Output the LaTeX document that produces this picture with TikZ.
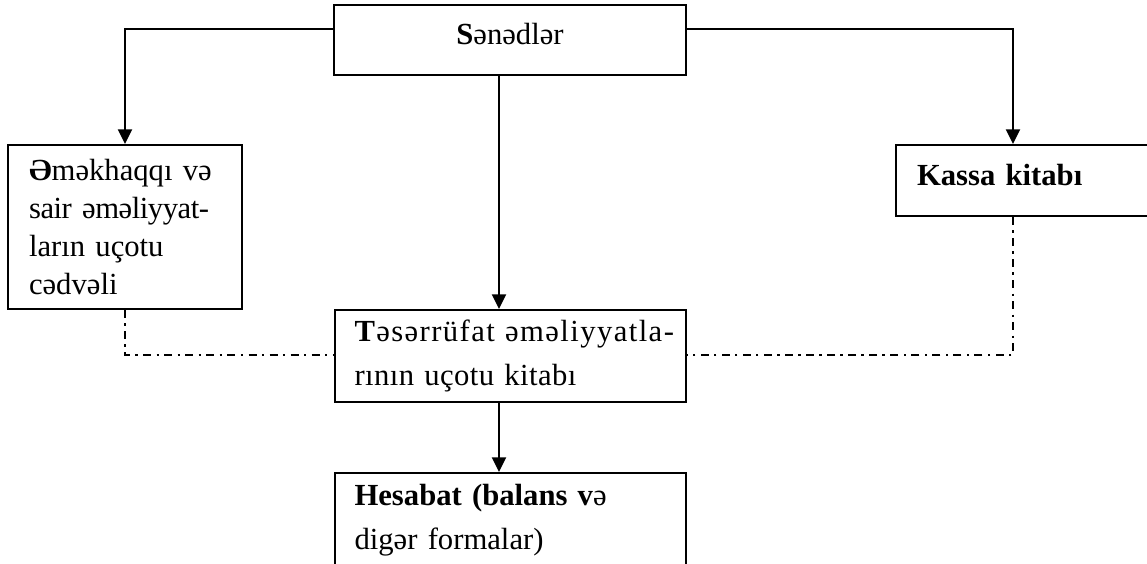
\documentclass[tikz,border=0pt]{standalone}
\usepackage{fontspec}
\setmainfont{Liberation Serif}
\usetikzlibrary{arrows.meta}
% one unbreakable, left-set line of box text; optional letter spacing
\newcommand{\boxline}[2][0]{\makebox[\linewidth][l]{\addfontfeature{LetterSpace=#1}#2}}
\begin{document}
\begin{tikzpicture}[x=0.75pt,y=-0.75pt,
  box/.style={draw,line width=1.5pt,inner ysep=0pt,
    font=\fontsize{23}{28.5}\selectfont},
  leftbox/.style={box,align=left,inner xsep=15pt},
  flow/.style={line width=1.5pt,-{Triangle[length=11pt,width=10.5pt]}},
  link/.style={line width=1.5pt,dash pattern=on 6pt off 4pt on 1.8pt off 4pt}
]
\useasboundingbox (0,0) rectangle (1147,564);
\clip (0,0) rectangle (1147,564);

% boxes
\node[box,minimum width=264pt,minimum height=52.5pt,
  text height=15.75pt,text depth=8.25pt] (sen) at (510,40)
  {\textbf{S}ənədlər};
\node[leftbox,minimum width=175.5pt,minimum height=123pt,text width=144pt,
  inner xsep=15.75pt] (emek) at (125,227)
  {\boxline{\textbf{Ə}məkhaqqı və}\\\boxline[-1.5]{sair əməliyyat-}\\
   \boxline{ların uçotu}\\\boxline{cədvəli}};
\node[leftbox,minimum width=202.5pt,minimum height=53.25pt,text width=171pt,
  inner xsep=15.75pt,text height=15.75pt,text depth=9pt] (kassa) at (1031,180.5)
  {\textbf{Kassa kitabı}};
\node[leftbox,minimum width=263.6pt,minimum height=69pt,text width=233.6pt,
  font=\fontsize{23}{32.6}\selectfont] (tes) at (510.25,356)
  {\boxline[4.6]{\textbf{T}əsərrüfat əməliyyatla-}\\\boxline[1.4]{rının uçotu kitabı}};
\node[leftbox,minimum width=263.6pt,minimum height=70.5pt,text width=233.6pt,
  font=\fontsize{23}{32.6}\selectfont] (hes) at (510.25,520)
  {\boxline{\textbf{Hesabat (balans v}ə}\\\boxline{digər formalar)}};

% routing guides
\coordinate (topline) at (0,29);
\coordinate (dline) at (0,355);
\coordinate (spine) at (499,0);
\coordinate (kcol) at (1013,0);

% solid arrows
\draw[flow] (sen.west |- topline) -| (emek.north);
\draw[flow] (sen.east |- topline) -| (kassa.north -| kcol);
\draw[flow] (sen.south -| spine) -- (tes.north -| spine);
\draw[flow] (tes.south -| spine) -- (hes.north -| spine);

% dash-dot links
\draw[link] (emek.south) |- (tes.west |- dline);
\draw[link] (kassa.south -| kcol) |- (tes.east |- dline);
\end{tikzpicture}
\end{document}
